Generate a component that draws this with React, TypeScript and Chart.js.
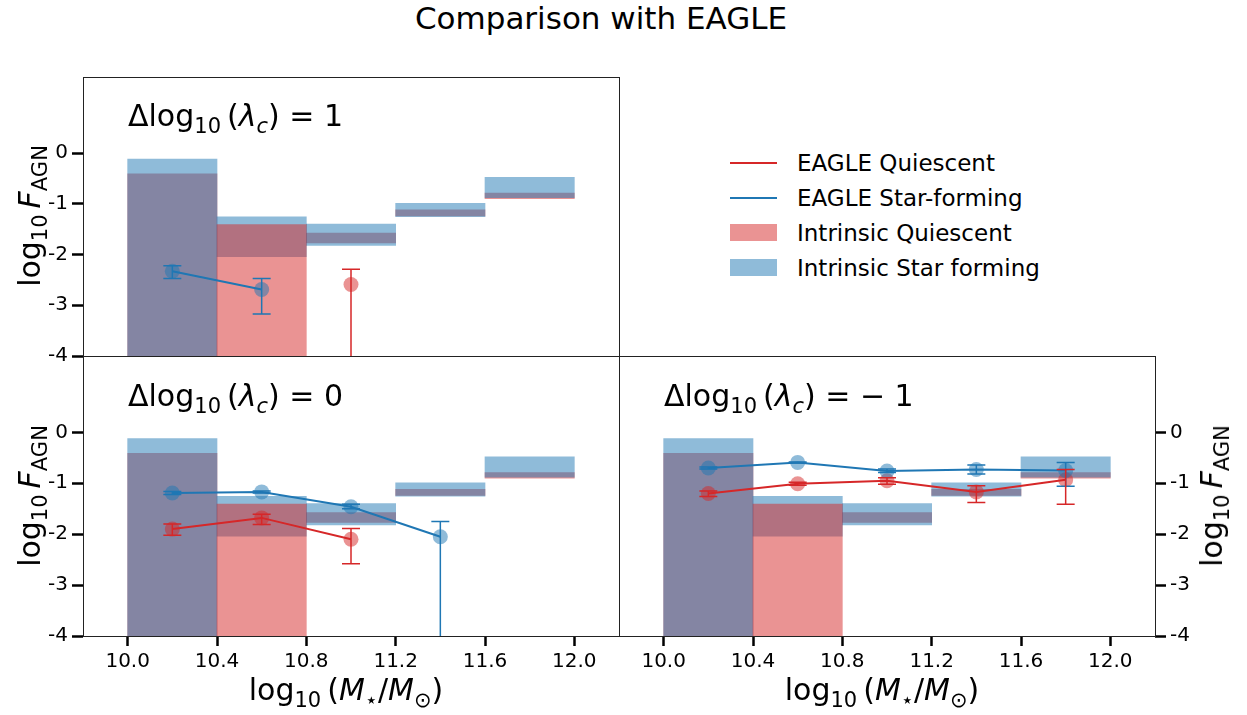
import React, { useEffect, useRef } from "react";
import { Chart, registerables } from "chart.js";

Chart.register(...registerables);

const FONT = "'DejaVu Sans', 'Liberation Sans', sans-serif";
const TAB_RED = "#d62728";
const TAB_BLUE = "#1f77b4";
const RED_A = "rgba(214,39,40,0.5)";
const BLUE_A = "rgba(31,119,180,0.5)";

// ---- axes / ticks ----
const BIN_CENTERS = [10.2, 10.6, 11.0, 11.4, 11.8];
const X_TICKS = [10.0, 10.4, 10.8, 11.2, 11.6, 12.0];
const Y_TICKS = [0, -1, -2, -3, -4];
const X_MIN = 9.8;
const X_MAX = 12.2;
const Y_MIN = -4;
const Y_MAX = 1.5;
const OFF_SCALE = -10; // extends below the plotted range

// ---- intrinsic bands (same in every panel) ----
const SF_BAND_HI = [-0.12, -1.255, -1.4, -0.99, -0.48];
const SF_BAND_LO = [OFF_SCALE, -2.04, -1.82, -1.255, -0.88];
const Q_BAND_HI = [-0.41, -1.41, -1.575, -1.12, -0.79];
const Q_BAND_LO = [OFF_SCALE, OFF_SCALE, -1.77, -1.24, -0.9];
const Q_BAND_ON_TOP = [false, true, false, false, false];

// ---- EAGLE, Δlog10(λc) = 1 ----
const P1_SF = [-2.33, -2.69, null, null, null];
const P1_SF_HI = [-2.22, -2.47, null, null, null];
const P1_SF_LO = [-2.47, -3.17, null, null, null];
const P1_Q = [null, null, -2.59, null, null];
const P1_Q_HI = [null, null, -2.29, null, null];
const P1_Q_LO = [null, null, OFF_SCALE, null, null];

// ---- EAGLE, Δlog10(λc) = 0 ----
const P0_SF = [-1.19, -1.17, -1.46, -2.05, null];
const P0_SF_HI = [-1.16, -1.15, -1.41, -1.75, null];
const P0_SF_LO = [-1.22, -1.19, -1.5, OFF_SCALE, null];
const P0_Q = [-1.9, -1.68, -2.1, null, null];
const P0_Q_HI = [-1.8, -1.61, -1.89, null, null];
const P0_Q_LO = [-2.02, -1.81, -2.58, null, null];

// ---- EAGLE, Δlog10(λc) = -1 ----
const PM_SF = [-0.7, -0.59, -0.76, -0.73, -0.75];
const PM_SF_HI = [-0.68, -0.58, -0.72, -0.64, -0.59];
const PM_SF_LO = [-0.72, -0.6, -0.79, -0.82, -1.06];
const PM_Q = [-1.2, -1.01, -0.95, -1.17, -0.93];
const PM_Q_HI = [-1.15, -0.98, -0.89, -1.05, -0.73];
const PM_Q_LO = [-1.26, -1.04, -1.02, -1.38, -1.41];

const LEGEND_LABELS = [
  "EAGLE Quiescent",
  "EAGLE Star-forming",
  "Intrinsic Quiescent",
  "Intrinsic Star forming",
];

type Arr = (number | null)[];

const pts = (arr: Arr) => BIN_CENTERS.map((x, i) => ({ x, y: arr[i] }));
const band = (lo: Arr, hi: Arr, mask: boolean[]) =>
  BIN_CENTERS.map((x, i) => ({ x, y: mask[i] ? [lo[i], hi[i]] : null }));

const panelPlugin = {
  id: "panelDecor",
  afterDatasetsDraw(chart: any) {
    const { ctx, chartArea: a } = chart;
    const xs = chart.scales.x;
    const ys = chart.scales.y;
    ctx.save();
    ctx.beginPath();
    ctx.rect(a.left, a.top, a.right - a.left, a.bottom - a.top);
    ctx.clip();
    chart.data.datasets.forEach((ds: any) => {
      if (!ds.errLo) return;
      ctx.strokeStyle = ds.borderColor;
      ctx.lineWidth = 1.5;
      ds.data.forEach((d: any, i: number) => {
        const lo = ds.errLo[i];
        const hi = ds.errHi[i];
        if (lo == null || hi == null) return;
        const px = xs.getPixelForValue(d.x);
        const pl = ys.getPixelForValue(lo);
        const ph = ys.getPixelForValue(hi);
        ctx.beginPath();
        ctx.moveTo(px, pl);
        ctx.lineTo(px, ph);
        ctx.moveTo(px - 9, pl);
        ctx.lineTo(px + 9, pl);
        ctx.moveTo(px - 9, ph);
        ctx.lineTo(px + 9, ph);
        ctx.stroke();
      });
    });
    ctx.restore();
  },
  afterDraw(chart: any) {
    const { ctx, chartArea: a } = chart;
    ctx.save();
    ctx.strokeStyle = "#222";
    ctx.lineWidth = 1;
    ctx.strokeRect(
      Math.round(a.left) + 0.5,
      Math.round(a.top) + 0.5,
      Math.round(a.right - a.left),
      Math.round(a.bottom - a.top)
    );
    ctx.restore();
  },
};

type PanelProps = {
  box: { left: number; top: number; width: number; height: number };
  yAxis: "left" | "right";
  showX: boolean;
  sf: Arr;
  sfHi: Arr;
  sfLo: Arr;
  q: Arr;
  qHi: Arr;
  qLo: Arr;
};

const PAD = 20;
const YW = 60;
const XH = 50;

function Panel(p: PanelProps) {
  const ref = useRef<HTMLCanvasElement>(null);
  const cl = p.box.left - PAD - (p.yAxis === "left" ? YW : 0);
  const ct = p.box.top - PAD;
  const cw = p.box.width + 2 * PAD + YW;
  const chh = p.box.height + 2 * PAD + (p.showX ? XH : 0);

  useEffect(() => {
    const barCommon = {
      type: "bar" as const,
      grouped: false,
      barPercentage: 1,
      categoryPercentage: 1,
      borderWidth: 0,
      clip: 0,
    };
    const tickFont = { family: FONT, size: 20 };
    const chart = new Chart(ref.current!, {
      type: "bar",
      data: {
        datasets: [
          {
            ...barCommon,
            label: "Intrinsic Quiescent",
            data: band(Q_BAND_LO, Q_BAND_HI, Q_BAND_ON_TOP.map((v) => !v)),
            backgroundColor: RED_A,
            order: 5,
          } as any,
          {
            ...barCommon,
            label: "Intrinsic Star forming",
            data: band(SF_BAND_LO, SF_BAND_HI, BIN_CENTERS.map(() => true)),
            backgroundColor: BLUE_A,
            order: 4,
          } as any,
          {
            ...barCommon,
            label: "Intrinsic Quiescent (front)",
            data: band(Q_BAND_LO, Q_BAND_HI, Q_BAND_ON_TOP),
            backgroundColor: RED_A,
            order: 3,
          } as any,
          {
            type: "line",
            label: "EAGLE Star-forming points",
            data: pts(p.sf),
            showLine: false,
            pointRadius: 7.5,
            pointBackgroundColor: BLUE_A,
            pointBorderWidth: 0,
            order: 2,
          } as any,
          {
            type: "line",
            label: "EAGLE Quiescent points",
            data: pts(p.q),
            showLine: false,
            pointRadius: 7.5,
            pointBackgroundColor: RED_A,
            pointBorderWidth: 0,
            order: 2,
          } as any,
          {
            type: "line",
            label: "EAGLE Star-forming",
            data: pts(p.sf),
            borderColor: TAB_BLUE,
            borderWidth: 2,
            pointRadius: 0,
            spanGaps: false,
            order: 1,
            errLo: p.sfLo,
            errHi: p.sfHi,
          } as any,
          {
            type: "line",
            label: "EAGLE Quiescent",
            data: pts(p.q),
            borderColor: TAB_RED,
            borderWidth: 2,
            pointRadius: 0,
            spanGaps: false,
            order: 1,
            errLo: p.qLo,
            errHi: p.qHi,
          } as any,
        ],
      },
      options: {
        animation: false,
        responsive: false,
        maintainAspectRatio: false,
        devicePixelRatio: 1,
        events: [],
        layout: { padding: PAD },
        plugins: { legend: { display: false }, tooltip: { enabled: false } },
        scales: {
          x: {
            type: "linear",
            min: X_MIN,
            max: X_MAX,
            offset: false,
            display: p.showX,
            afterBuildTicks: (s: any) => {
              s.ticks = X_TICKS.map((v) => ({ value: v }));
            },
            afterFit: (s: any) => {
              s.height = p.showX ? XH : 0;
            },
            ticks: {
              callback: (v: any) => Number(v).toFixed(1),
              font: tickFont,
              color: "#000",
              padding: 4,
              maxRotation: 0,
              autoSkip: false,
            },
            grid: {
              drawOnChartArea: false,
              drawTicks: true,
              tickLength: 10,
              tickWidth: 2.5,
              tickColor: "#000",
              offset: false,
            },
            border: { display: false },
          },
          y: {
            type: "linear",
            position: p.yAxis,
            min: Y_MIN,
            max: Y_MAX,
            afterBuildTicks: (s: any) => {
              s.ticks = Y_TICKS.map((v) => ({ value: v }));
            },
            afterFit: (s: any) => {
              s.width = YW;
            },
            ticks: {
              callback: (v: any) => String(v),
              font: tickFont,
              color: "#000",
              padding: 4,
              autoSkip: false,
            },
            grid: {
              drawOnChartArea: false,
              drawTicks: true,
              tickLength: 11,
              tickWidth: 2.5,
              tickColor: "#000",
            },
            border: { display: false },
          },
        },
      } as any,
      plugins: [panelPlugin],
    });
    return () => chart.destroy();
  }, []);

  return (
    <canvas
      ref={ref}
      width={cw}
      height={chh}
      style={{ position: "absolute", left: cl, top: ct, width: cw, height: chh }}
    />
  );
}

const sub = (t: React.ReactNode) => (
  <span style={{ fontSize: "70%", position: "relative", top: "0.35em" }}>{t}</span>
);

function YLabel({ x, y }: { x: number; y: number }) {
  return (
    <div
      style={{
        position: "absolute",
        left: x,
        top: y,
        transform: "translate(-50%, -50%) rotate(-90deg)",
        fontSize: 30,
        whiteSpace: "nowrap",
        lineHeight: 1,
      }}
    >
      log{sub("10")}&thinsp;<i>F</i>
      {sub("AGN")}
    </div>
  );
}

function XLabel({ x, y }: { x: number; y: number }) {
  return (
    <div
      style={{
        position: "absolute",
        left: x,
        top: y,
        transform: "translate(-50%, -50%)",
        fontSize: 30,
        whiteSpace: "nowrap",
        lineHeight: 1,
      }}
    >
      log{sub("10")}&thinsp;(<i>M</i>
      {sub("⋆")}/<i>M</i>
      {sub("⊙")})
    </div>
  );
}

function Annot({ x, y, val }: { x: number; y: number; val: string }) {
  return (
    <div
      style={{
        position: "absolute",
        left: x,
        top: y,
        fontSize: 30,
        whiteSpace: "nowrap",
        lineHeight: 1,
      }}
    >
      Δlog{sub("10")}&thinsp;(<i>λ</i>
      {sub(<i>c</i>)}) = {val}
    </div>
  );
}

function Legend() {
  const rows = [
    { kind: "line", color: TAB_RED },
    { kind: "line", color: TAB_BLUE },
    { kind: "patch", color: RED_A },
    { kind: "patch", color: BLUE_A },
  ];
  return (
    <div style={{ position: "absolute", left: 730, top: 145 }}>
      {rows.map((r, i) => (
        <div
          key={i}
          style={{ display: "flex", alignItems: "center", height: 35, fontSize: 23 }}
        >
          {r.kind === "line" ? (
            <div style={{ width: 47, height: 2, background: r.color }} />
          ) : (
            <div style={{ width: 47, height: 17, background: r.color }} />
          )}
          <span style={{ marginLeft: 20, whiteSpace: "nowrap" }}>{LEGEND_LABELS[i]}</span>
        </div>
      ))}
    </div>
  );
}

export default function App() {
  return (
    <div
      style={{
        position: "absolute",
        left: 0,
        top: 0,
        width: 1247,
        height: 715,
        background: "#fff",
        fontFamily: FONT,
        color: "#000",
        overflow: "hidden",
      }}
    >
      <div
        style={{
          position: "absolute",
          left: 601,
          top: 18,
          transform: "translate(-50%, -50%)",
          fontSize: 31,
          whiteSpace: "nowrap",
          lineHeight: 1,
        }}
      >
        Comparison with EAGLE
      </div>

      <Panel
        box={{ left: 83, top: 77, width: 536, height: 279 }}
        yAxis="left"
        showX={false}
        sf={P1_SF}
        sfHi={P1_SF_HI}
        sfLo={P1_SF_LO}
        q={P1_Q}
        qHi={P1_Q_HI}
        qLo={P1_Q_LO}
      />
      <Panel
        box={{ left: 83, top: 356, width: 536, height: 280 }}
        yAxis="left"
        showX={true}
        sf={P0_SF}
        sfHi={P0_SF_HI}
        sfLo={P0_SF_LO}
        q={P0_Q}
        qHi={P0_Q_HI}
        qLo={P0_Q_LO}
      />
      <Panel
        box={{ left: 619, top: 356, width: 536, height: 280 }}
        yAxis="right"
        showX={true}
        sf={PM_SF}
        sfHi={PM_SF_HI}
        sfLo={PM_SF_LO}
        q={PM_Q}
        qHi={PM_Q_HI}
        qLo={PM_Q_LO}
      />

      <Annot x={128} y={101} val="1" />
      <Annot x={128} y={381} val="0" />
      <Annot x={664} y={381} val="− 1" />

      <YLabel x={30} y={216} />
      <YLabel x={30} y={496} />
      <YLabel x={1212} y={496} />
      <XLabel x={346} y={690} />
      <XLabel x={882} y={690} />

      <Legend />
    </div>
  );
}
